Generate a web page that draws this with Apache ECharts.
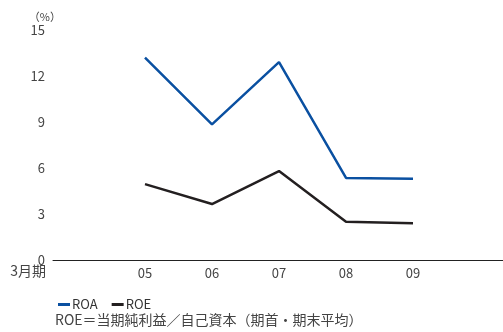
<!DOCTYPE html>
<html>
<head>
<meta charset="utf-8">
<script src="https://cdn.jsdelivr.net/npm/echarts@6/dist/echarts.min.js"></script>
<style>
  html, body { margin: 0; padding: 0; background: #fff; }
  #main { width: 503px; height: 332px; }
</style>
</head>
<body>
<div id="main"></div>
<script>
// 決算期（3月期）
var years = [5, 6, 7, 8, 9];
var yearLabels = ['05', '06', '07', '08', '09'];
var roa = [13.2, 8.85, 12.9, 5.35, 5.3];
var roe = [4.95, 3.65, 5.8, 2.5, 2.4];
var yTicks = [0, 3, 6, 9, 12, 15];

var font = '"Noto Sans CJK JP", "Noto Sans", sans-serif';

function pairs(vals) {
    return years.map(function (y, i) { return [y, vals[i]]; });
}

var myChart = echarts.init(document.getElementById('main'));

var option = {
    animation: false,
    textStyle: { fontFamily: font },
    grid: { left: 53, right: 0, top: 30, bottom: 72 },
    legend: {
        left: 53,
        top: 293,
        itemWidth: 12,
        itemHeight: 3,
        itemGap: 14,
        icon: 'rect',
        textStyle: { fontSize: 13, color: '#333', fontFamily: font, padding: [0, 0, 0, -3] },
        data: ['ROA', 'ROE']
    },
    xAxis: {
        type: 'value',
        min: 3.627,
        max: 10.343,
        splitNumber: 7,
        axisLine: { show: true, onZero: true, lineStyle: { color: '#222', width: 1 } },
        axisTick: { show: false },
        splitLine: { show: false },
        axisLabel: {
            color: '#444',
            fontSize: 13,
            margin: 7,
            showMinLabel: false,
            showMaxLabel: false,
            formatter: function (v) {
                var i = years.indexOf(Math.round(v * 1000) / 1000);
                return i >= 0 ? yearLabels[i] : '';
            }
        }
    },
    yAxis: {
        type: 'value',
        min: yTicks[0],
        max: yTicks[yTicks.length - 1],
        interval: 3,
        name: '（%）',
        nameLocation: 'end',
        nameGap: 8,
        nameTextStyle: { color: '#444', fontSize: 11, align: 'right', padding: [0, -8, 0, 0] },
        axisLine: { show: false },
        axisTick: { show: false },
        splitLine: { show: false },
        axisLabel: { color: '#444', fontSize: 13, margin: 8 }
    },
    graphic: [
        {
            type: 'text',
            right: 457,
            top: 264,
            style: { text: '3月期', fill: '#444', font: '14px ' + font }
        },
        {
            type: 'text',
            left: 55,
            top: 313,
            style: { text: 'ROE＝当期純利益／自己資本（期首・期末平均）', fill: '#444', font: '14px ' + font }
        }
    ],
    series: [
        {
            name: 'ROA',
            type: 'line',
            data: pairs(roa),
            symbol: 'none',
            lineStyle: { color: '#0a50a1', width: 2.5 },
            itemStyle: { color: '#0a50a1' }
        },
        {
            name: 'ROE',
            type: 'line',
            data: pairs(roe),
            symbol: 'none',
            lineStyle: { color: '#231f20', width: 2.5 },
            itemStyle: { color: '#231f20' }
        }
    ]
};

myChart.setOption(option);
</script>
</body>
</html>
